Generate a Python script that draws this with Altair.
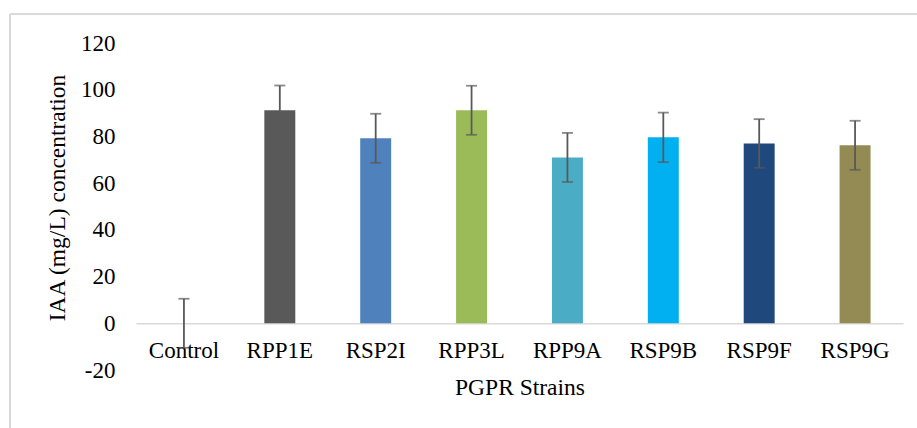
import altair as alt
import pandas as pd

strains = ["Control", "RPP1E", "RSP2I", "RPP3L", "RPP9A", "RSP9B", "RSP9F", "RSP9G"]
iaa = [0.0, 91.2, 79.2, 91.2, 71.0, 79.6, 77.0, 76.2]
err = [10.5, 10.6, 10.5, 10.5, 10.5, 10.6, 10.4, 10.5]
colors = ["#595959", "#595959", "#4F81BD", "#9BBB59", "#4BACC6", "#00B0F0", "#1F497D", "#948A54"]
y_ticks = [-20, 0, 20, 40, 60, 80, 100, 120]
y_title = "IAA (mg/L) concentration"
x_title = "PGPR Strains"

df = pd.DataFrame({"strain": strains, "iaa": iaa, "err": err})
df["lo"] = df["iaa"] - df["err"]
df["hi"] = df["iaa"] + df["err"]

FONT = "Liberation Serif"
W, H = 767, 327

xscale = alt.Scale(domain=strains, paddingInner=0.677, paddingOuter=0.3385)
yscale = alt.Scale(domain=[-20, 120], nice=False, zero=False)

x_axis = alt.Axis(title=x_title, labelAngle=0, ticks=False,
                  domainColor="#D9D9D9", domainWidth=1.5, offset=-46.7,
                  labelPadding=16, titlePadding=13)

y_axis = alt.Axis(title=None, values=y_ticks,
                  grid=False, domain=False, ticks=False, labelPadding=21,
                  labelExpr="datum.value < 0 ? '-' + abs(datum.value) : '' + datum.value")

bars = alt.Chart(df).mark_bar().encode(
    x=alt.X("strain:N", scale=xscale, sort=strains, axis=x_axis),
    y=alt.Y("iaa:Q", scale=yscale, axis=y_axis),
    color=alt.Color("strain:N", scale=alt.Scale(domain=strains, range=colors), legend=None),
)

rules = alt.Chart(df).mark_rule(color="#595959", strokeWidth=1.8).encode(
    x=alt.X("strain:N", scale=xscale, sort=strains, axis=x_axis),
    y=alt.Y("lo:Q", scale=yscale, axis=y_axis),
    y2="hi:Q",
)
caps_hi = alt.Chart(df).mark_tick(color="#595959", thickness=1.8, size=11, orient="horizontal").encode(
    x=alt.X("strain:N", scale=xscale, sort=strains, axis=x_axis),
    y=alt.Y("hi:Q", scale=yscale, axis=y_axis),
)
caps_lo = alt.Chart(df).mark_tick(color="#595959", thickness=1.8, size=11, orient="horizontal").encode(
    x=alt.X("strain:N", scale=xscale, sort=strains, axis=x_axis),
    y=alt.Y("lo:Q", scale=yscale, axis=y_axis),
)

ytitle = alt.Chart(pd.DataFrame({"t": [y_title]})).mark_text(
    angle=270, font=FONT, fontSize=23.5, color="black", align="center", baseline="middle",
).encode(text="t:N", x=alt.value(-78), y=alt.value(155))

frame_top = alt.Chart(df).mark_rule(color="#D9D9D9", strokeWidth=1.5, clip=False).encode(
    x=alt.value(-126), x2=alt.value(W + 20), y=alt.value(-29))
frame_left = alt.Chart(df).mark_rule(color="#D9D9D9", strokeWidth=1.5, clip=False).encode(
    x=alt.value(-126), y=alt.value(-29), y2=alt.value(H + 80))

chart = alt.layer(frame_top, frame_left, bars, rules, caps_hi, caps_lo, ytitle).properties(
    width=W, height=H,
    background="white",
    autosize=alt.AutoSizeParams(type="none"),
    padding={"left": 136, "top": 43, "right": 14, "bottom": 58},
).configure_view(stroke=None).configure_axis(
    labelFont=FONT, titleFont=FONT, labelFontSize=23, titleFontSize=23.5,
    labelColor="black", titleColor="black", titleFontWeight="normal",
)

chart.save("out.html", embed_options={"renderer": "svg", "actions": False})
